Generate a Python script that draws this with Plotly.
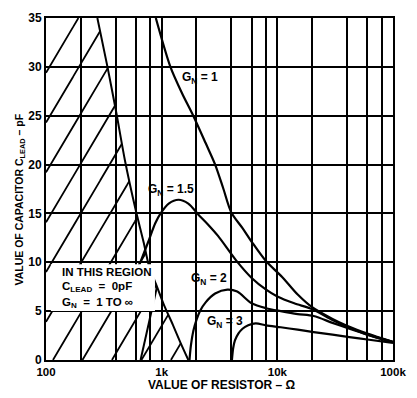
import numpy as np
import plotly.graph_objects as go

# ---- curve data: resistor value (ohms) vs lead capacitor (pF) ----
gn1_r = [890, 1190, 1500, 1875, 2400, 2900, 3400, 4000, 5000, 6000, 8000, 11000,
         15000, 20000, 30000, 40000, 60000, 100000]
gn1_c = [35, 30, 27.3, 25, 22.2, 20, 17.6, 15.1, 13.5, 12.1, 10.1, 8.5,
         6.7, 5.4, 4.2, 3.5, 2.7, 1.85]

gn15_r = [640, 760, 880, 980, 1150, 1400, 1700, 2070, 2500, 3070, 4400, 6000,
          8000, 10000, 14000, 20000, 30000, 40000, 60000, 100000]
gn15_c = [9.7, 12.0, 14.0, 15.0, 16.0, 16.4, 16.0, 14.9, 13.9, 12.7, 10.2, 8.4,
          7.2, 6.5, 5.8, 5.2, 4.1, 3.4, 2.6, 1.85]

gn2_r = [1740, 1790, 1880, 2000, 2140, 2400, 2900, 3700, 4500, 6000, 8000, 10700,
         15000, 20600, 30000, 42000, 60000, 100000]
gn2_c = [0, 1.5, 3.0, 4.1, 5.0, 5.9, 6.8, 7.2, 7.0, 5.8, 5.3, 5.0,
         4.7, 4.5, 3.8, 3.2, 2.6, 1.82]

gn3_r = [4050, 4150, 4300, 4600, 5000, 5600, 6500, 8000, 10700, 15000, 20600,
         30000, 42000, 60000, 100000]
gn3_c = [0, 1.2, 2.0, 2.7, 3.2, 3.55, 3.75, 3.55, 3.35, 3.1, 2.85,
         2.6, 2.35, 2.1, 1.75]

# edge of the no-lead-capacitor region
edge_r = [278, 340, 407, 480, 595, 700, 773, 850, 911, 1050, 1250, 1450, 1700]
edge_c = [35, 30, 25.2, 20.5, 15.4, 12, 9.7, 8.4, 7.5, 5.6, 3.6, 1.8, 0]

# inner rising edge near 1k
inner_r = [657, 911]
inner_c = [0, 7.5]

# axis ticks and grid
label_vals = [100, 1000, 10000, 100000]
label_text = ["100", "1k", "10k", "100k"]
minor_vals = [200, 400, 600, 800, 2000, 4000, 6000, 8000,
              20000, 40000, 60000, 80000]

# hatch pattern: straight lines in log-x space
HATCH_SLOPE = 20.0          # pF per decade
HATCH_START = 29.4          # pF at 100 ohm for the first line
HATCH_STEP = 5.1            # pF between successive lines

FONT = "Liberation Sans, Arial, sans-serif"
BLACK = "#000000"

fig = go.Figure()

# hatch lines clipped to the region left of the edge curve
le_r = np.log10(edge_r)
ec = np.array(edge_c)
t = np.linspace(2.0, np.log10(1700), 4000)
edge_at_t = np.interp(t, le_r, ec, left=1e9, right=-1e9)
for m in range(0, 12):
    c0 = HATCH_START - HATCH_STEP * m
    hc = c0 + HATCH_SLOPE * (t - 2.0)
    inside = (hc >= 0) & (hc <= 35) & (hc <= edge_at_t)
    if not inside.any():
        continue
    idx = np.where(inside)[0]
    fig.add_trace(go.Scatter(
        x=10 ** t[idx], y=hc[idx], mode="lines",
        line=dict(color=BLACK, width=1.8), hoverinfo="skip", showlegend=False))

for xs, ys in [(edge_r, edge_c), (inner_r, inner_c)]:
    fig.add_trace(go.Scatter(x=xs, y=ys, mode="lines",
                             line=dict(color=BLACK, width=2, shape="spline", smoothing=0.6),
                             hoverinfo="skip", showlegend=False))

for xs, ys in [(gn1_r, gn1_c), (gn15_r, gn15_c), (gn2_r, gn2_c), (gn3_r, gn3_c)]:
    fig.add_trace(go.Scatter(x=xs, y=ys, mode="lines",
                             line=dict(color=BLACK, width=2.2, shape="spline", smoothing=0.8),
                             hoverinfo="skip", showlegend=False))

# white panel behind the region note
fig.add_shape(type="rect", xref="paper", yref="paper",
              x0=0.014, x1=0.314, y0=0.143, y1=0.280,
              fillcolor="white", line=dict(width=0), layer="above")

note_font = dict(family=FONT, size=11.5, color=BLACK, weight="bold")
for txt, yp in [("IN THIS REGION", 0.258),
                ("C<sub>LEAD</sub>  =  0pF", 0.212),
                ("G<sub>N</sub>  =  1 TO ∞", 0.166)]:
    fig.add_annotation(text=txt, xref="paper", yref="paper", x=0.040, y=yp,
                       xanchor="left", yanchor="middle", showarrow=False, font=note_font)

for txt, xp, yp in [("G<sub>N</sub> = 1", 0.445, 0.826),
                    ("G<sub>N</sub> = 1.5", 0.361, 0.497),
                    ("G<sub>N</sub> = 2", 0.469, 0.236),
                    ("G<sub>N</sub> = 3", 0.517, 0.110)]:
    fig.add_annotation(text=txt, xref="paper", yref="paper", x=xp, y=yp,
                       xanchor="center", yanchor="middle", showarrow=False,
                       font=dict(family=FONT, size=12, color=BLACK, weight="bold"))

# axis titles
fig.add_annotation(text="VALUE OF RESISTOR – Ω", xref="paper", yref="paper",
                   x=0.507, y=-0.074, xanchor="center", yanchor="middle",
                   showarrow=False, font=dict(family=FONT, size=12, color=BLACK, weight="bold"))
fig.add_annotation(text="VALUE OF CAPACITOR C<sub>LEAD</sub> – pF", xref="paper", yref="paper",
                   x=-0.074, y=0.47, xanchor="center", yanchor="middle", textangle=-90,
                   showarrow=False, font=dict(family=FONT, size=10.5, color=BLACK, weight="bold"))

fig.update_xaxes(type="log", range=[2, 5],
                 tickvals=label_vals, ticktext=label_text,
                 showgrid=True, gridcolor=BLACK, gridwidth=2,
                 minor=dict(tickvals=minor_vals, showgrid=True, gridcolor=BLACK,
                            gridwidth=2, ticks=""),
                 showline=True, linecolor=BLACK, linewidth=2, mirror=True,
                 ticks="", zeroline=False,
                 tickfont=dict(family=FONT, size=11.5, color=BLACK, weight="bold"))
fig.update_yaxes(range=[0, 35], dtick=5, tick0=0,
                 showgrid=True, gridcolor=BLACK, gridwidth=2,
                 showline=True, linecolor=BLACK, linewidth=2, mirror=True,
                 ticks="", zeroline=False,
                 tickfont=dict(family=FONT, size=12, color=BLACK, weight="bold"))

fig.update_layout(width=417, height=398,
                  margin=dict(l=46, r=18, t=11, b=38),
                  plot_bgcolor="white", paper_bgcolor="white",
                  showlegend=False)

fig.write_html("out.html")
